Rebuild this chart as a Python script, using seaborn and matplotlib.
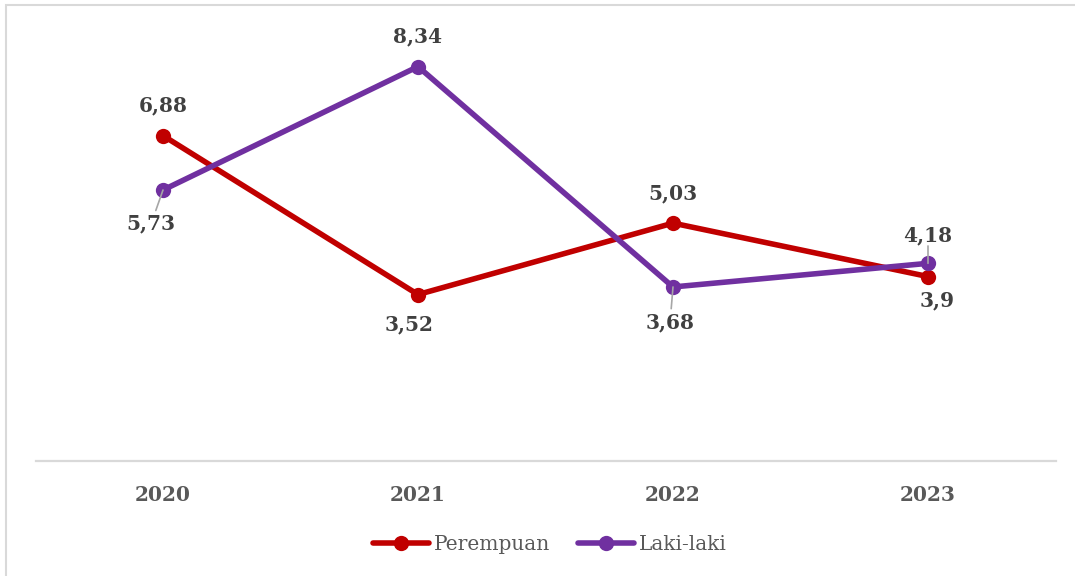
import pandas as pd
import matplotlib.pyplot as plt
import seaborn as sns
from matplotlib.patches import Rectangle

years = ['2020', '2021', '2022', '2023']
perempuan = [6.88, 3.52, 5.03, 3.9]
laki_laki = [5.73, 8.34, 3.68, 4.18]
series_names = ['Perempuan', 'Laki-laki']
colors = ['#C00000', '#7030A0']

df = pd.DataFrame({
    'Tahun': years * 2,
    'Nilai': perempuan + laki_laki,
    'Jenis': [series_names[0]] * len(years) + [series_names[1]] * len(years),
})

sns.set_theme(style='white')
plt.rcParams['font.family'] = ['DejaVu Serif']

fig = plt.figure(figsize=(10.75, 5.76), dpi=100)
ax = fig.add_axes([35.5 / 1075, 115 / 576, 1020 / 1075, 454 / 576])

sns.lineplot(data=df, x='Tahun', y='Nilai', hue='Jenis', palette=colors,
             marker='o', markersize=11, markeredgewidth=0, linewidth=4,
             sort=False, ax=ax, clip_on=False)

ax.set_xlim(-0.5, 3.5)
ax.set_ylim(0, 9.6)
ax.set_xlabel('')
ax.set_ylabel('')
ax.set_yticks([])
for s in ['top', 'right', 'left']:
    ax.spines[s].set_visible(False)
ax.spines['bottom'].set_color('#D9D9D9')
ax.spines['bottom'].set_linewidth(1.6)
ax.tick_params(axis='x', length=0, pad=17)
for t in ax.get_xticklabels():
    t.set_fontsize(14.5)
    t.set_fontweight('bold')
    t.set_color('#595959')

# label offsets in pixels (dx, dy with dy positive downward), leader lines flagged
offs = {
    'Perempuan': [(0, -30, False), (-9, 30, False), (0, -30, False), (9, 24, False)],
    'Laki-laki': [(-12, 33, True), (0, -30, False), (-3, 35, True), (0, -28, True)],
}
for name, vals in zip(series_names, [perempuan, laki_laki]):
    for i, v in enumerate(vals):
        dx, dy, lead = offs[name][i]
        txt = f'{v:g}'.replace('.', ',')
        ax.annotate(txt, (i, v), xytext=(dx * 0.72, -dy * 0.72), textcoords='offset points',
                    ha='center', va='center', fontsize=14.5, fontweight='bold', color='#404040',
                    annotation_clip=False)
        if lead:
            ax.annotate('', (i, v), xytext=(dx * 0.72 * 0.6, -dy * 0.72 * 0.62),
                        textcoords='offset points',
                        arrowprops=dict(arrowstyle='-', color='#A6A6A6', lw=1.2,
                                        shrinkA=0, shrinkB=0),
                        annotation_clip=False)

handles, labels = ax.get_legend_handles_labels()
ax.legend(handles, labels, loc='center', bbox_to_anchor=(550 / 1075, 1 - 545 / 576),
          bbox_transform=fig.transFigure, ncol=2, frameon=False, fontsize=14.5,
          handlelength=2.75, handletextpad=0.25, columnspacing=1.4,
          labelcolor='#595959')

fig.patches.append(Rectangle((6 / 1075, -0.1), 1.2, 1 - 5 / 576 + 0.1,
                             transform=fig.transFigure, fill=False,
                             edgecolor='#D9D9D9', linewidth=1.5))

fig.savefig('out.png', dpi=100)
